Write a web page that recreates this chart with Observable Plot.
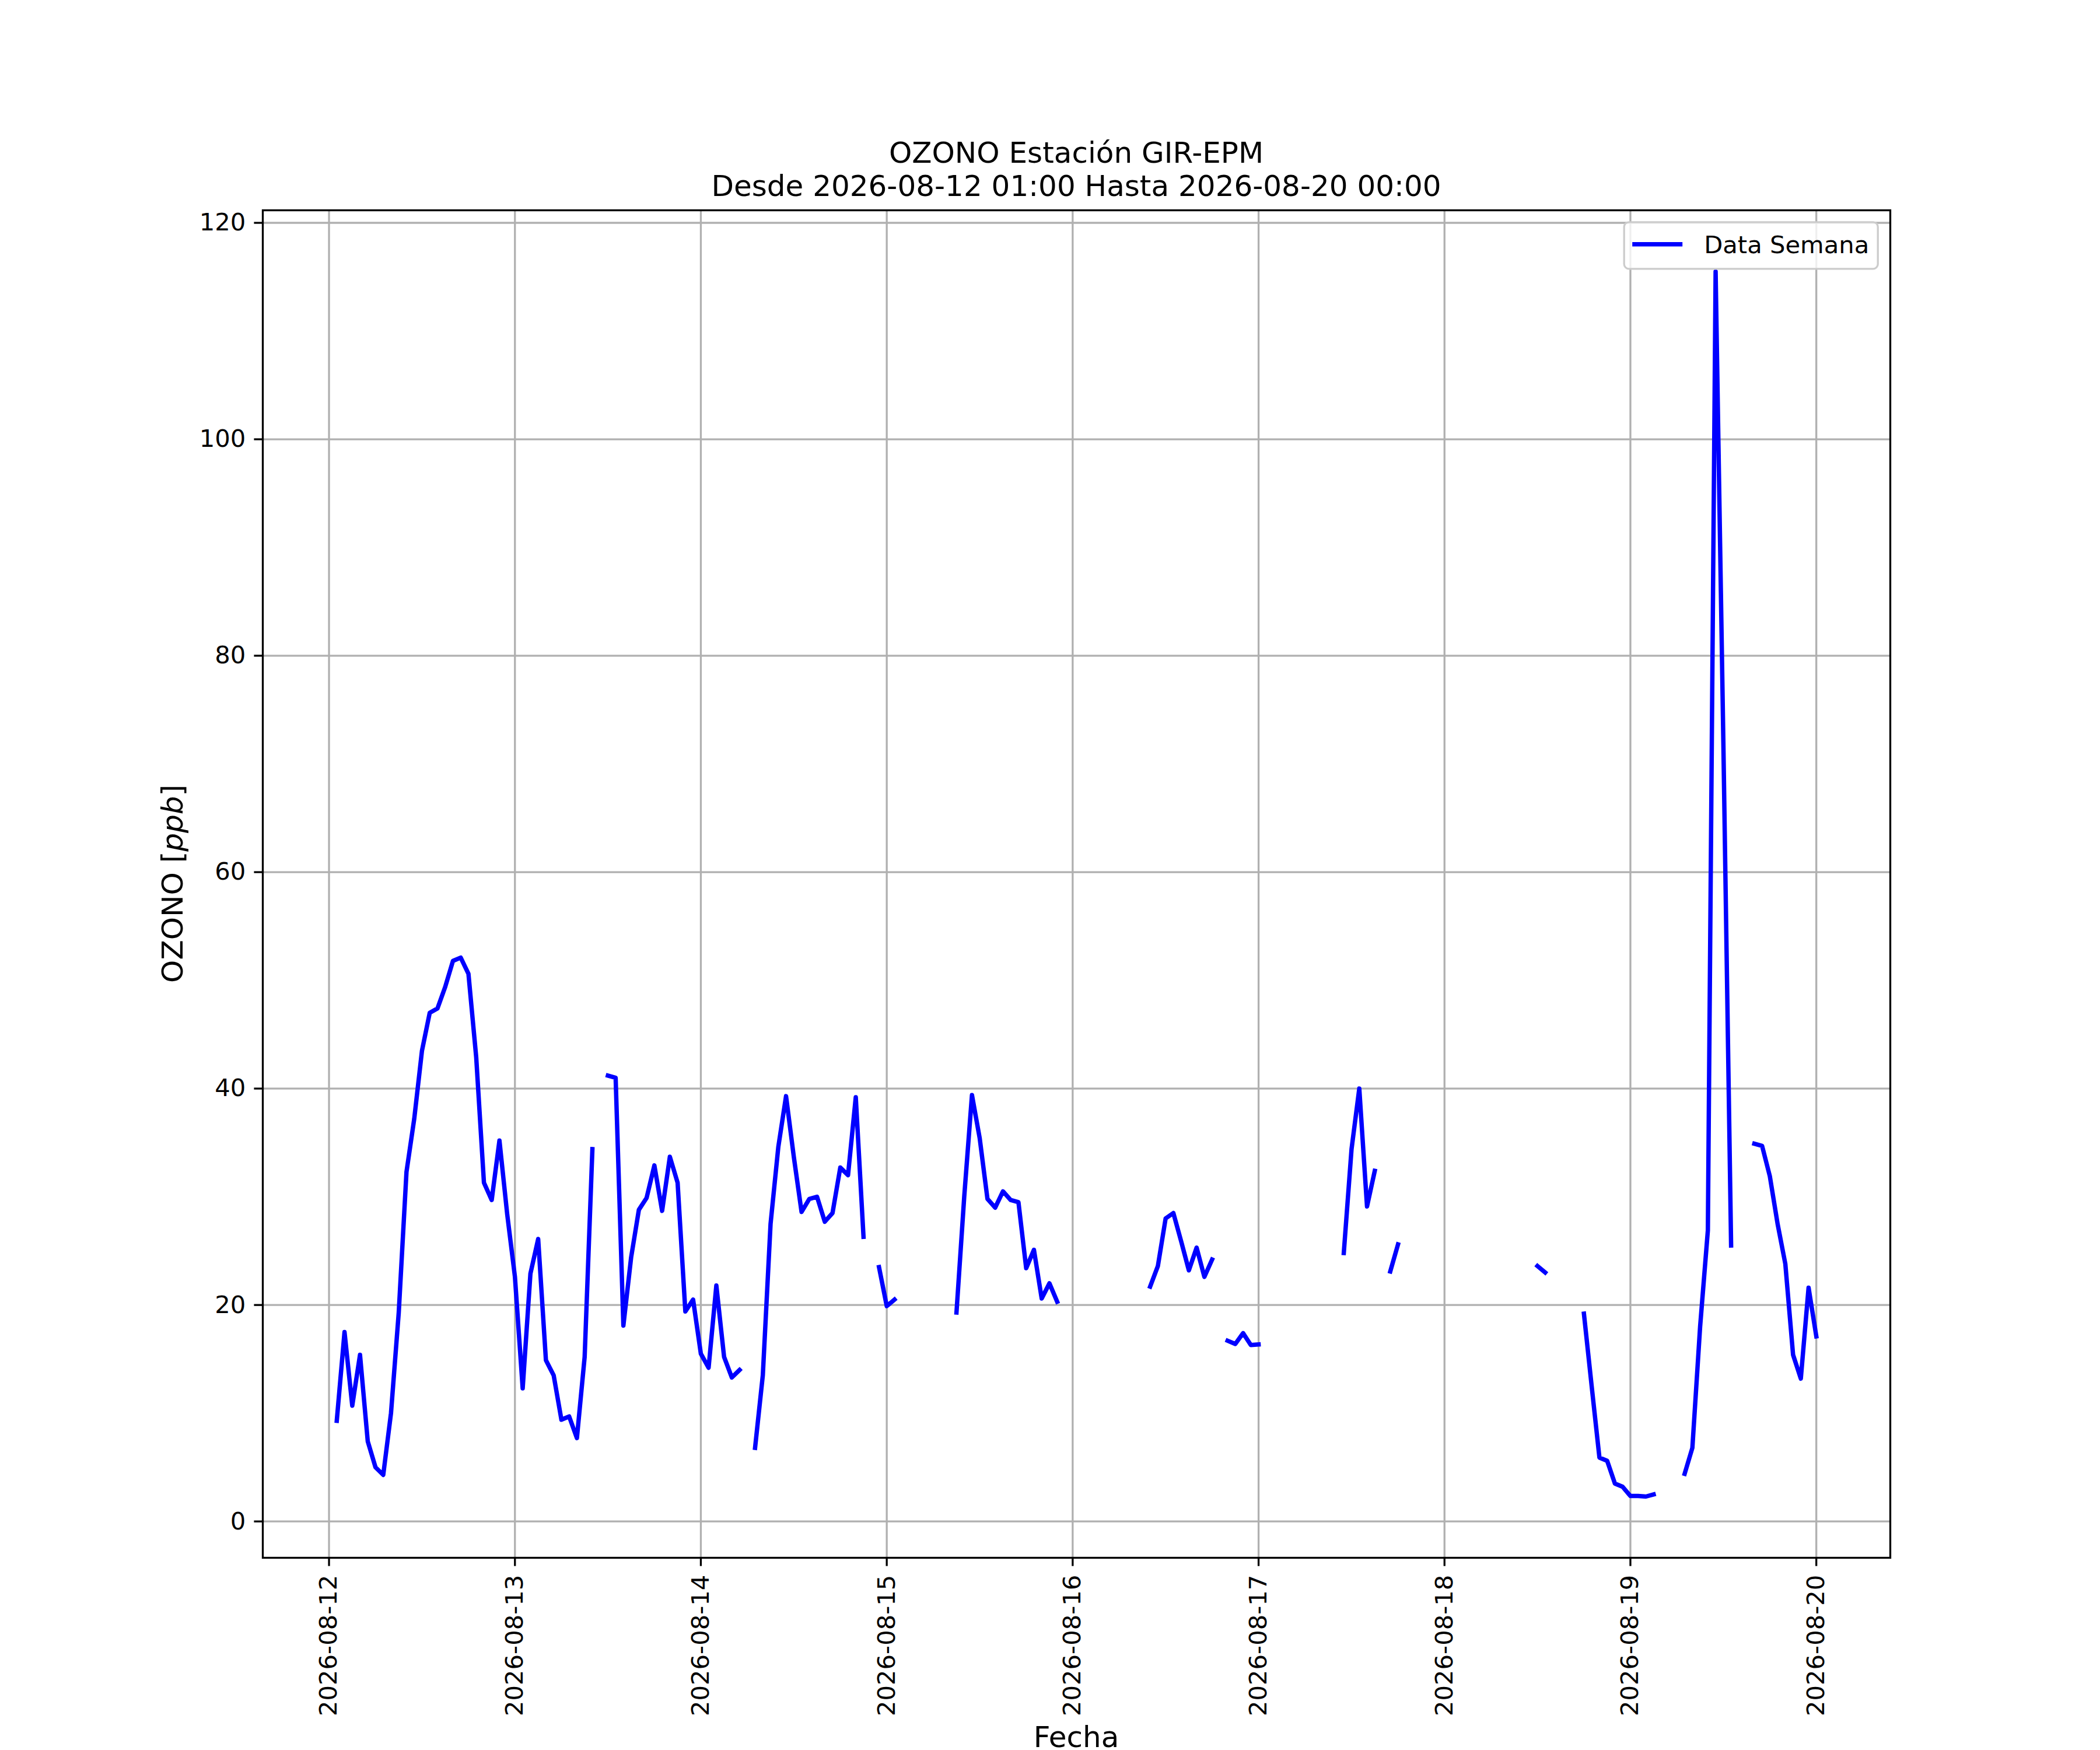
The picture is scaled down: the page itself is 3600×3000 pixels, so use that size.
<!DOCTYPE html>
<html>
<head>
<meta charset="utf-8">
<script src="https://cdn.jsdelivr.net/npm/d3@7"></script>
<script src="https://cdn.jsdelivr.net/npm/@observablehq/plot@0.6"></script>
<style>
  body { margin: 0; background: #ffffff; }
  #chart svg { display: block; }
</style>
</head>
<body>
<div id="chart"></div>
<script>
// ---- Data ----
const inicio = "2026-08-12T01:00:00Z";   // first hourly reading
const ozono = [
  9.3, 17.5, 10.7, 15.4, 7.4, 5.0, 4.3, 10.0, 19.3, 32.3,
  37.2, 43.5, 47.0, 47.4, 49.4, 51.8, 52.1, 50.6, 42.9, 31.3,
  29.7, 35.2, 28.4, 22.6, 12.3, 22.9, 26.1, 14.9, 13.5, 9.4,
  9.7, 7.7, 15.2, 34.4, null, 41.2, 41.0, 18.1, 24.4, 28.8,
  29.9, 32.9, 28.7, 33.7, 31.3, 19.4, 20.5, 15.5, 14.2, 21.8,
  15.2, 13.3, 14.0, null, 6.8, 13.5, 27.5, 34.6, 39.3, 33.7,
  28.6, 29.8, 30.0, 27.7, 28.5, 32.7, 32.0, 39.2, 26.3, null,
  23.5, 19.9, 20.5, null, null, null, null, null, null, null,
  19.3, 30.0, 39.4, 35.4, 29.8, 29.0, 30.5, 29.7, 29.5, 23.4,
  25.1, 20.6, 22.0, 20.3, null, null, null, null, null, null,
  null, null, null, null, null, 21.7, 23.6, 28.0, 28.5, 25.9,
  23.2, 25.3, 22.6, 24.2, null, 16.7, 16.4, 17.4, 16.3, 16.35,
  null, null, null, null, null, null, null, null, null, null,
  24.8, 34.4, 40.0, 29.1, 32.4, null, 23.1, 25.6, null, null,
  null, null, null, null, null, null, null, null, null, null,
  null, null, null, null, null, 23.6, 23.0, null, null, null,
  null, 19.2, 12.5, 5.9, 5.6, 3.5, 3.2, 2.35, 2.35, 2.3,
  2.5, null, null, null, 4.4, 6.8, 18.0, 26.9, 115.5, 72.0,
  25.5, null, null, 34.9, 34.7, 31.9, 27.5, 23.8, 15.4, 13.2,
  21.6, 17.1
];
const yTicks = [0, 20, 40, 60, 80, 100, 120];
const xTicks = ["2026-08-12", "2026-08-13", "2026-08-14", "2026-08-15", "2026-08-16",
                "2026-08-17", "2026-08-18", "2026-08-19", "2026-08-20"];
const titulo = ["OZONO Estación GIR-EPM", "Desde 2026-08-12 01:00 Hasta 2026-08-20 00:00"];
const etiquetaX = "Fecha";
const etiquetaY = "OZONO ";
const unidadY = "ppb";
const leyenda = "Data Semana";

// ---- Build table ----
const t0 = new Date(inicio);
const datos = ozono.map((v, i) => ({fecha: new Date(t0.getTime() + i * 3600e3), valor: v}));

// matplotlib-like 5% margins
const tMin = datos[0].fecha, tMax = datos[datos.length - 1].fecha;
const tPad = 0.05 * (tMax - tMin);
const vals = ozono.filter(v => v != null);
const vMin = d3.min(vals), vMax = d3.max(vals);
const vPad = 0.05 * (vMax - vMin);

const W = 3600, H = 3000;
const mL = 450, mR = 360, mT = 360, mB = 330;
const FS = 41.7, FS2 = 50;
const grid = "#b0b0b0";
const lw = 7.5;
const xTickDates = xTicks.map(d => new Date(d + "T00:00:00Z"));

const chart = Plot.plot({
  width: W,
  height: H,
  marginLeft: mL,
  marginRight: mR,
  marginTop: mT,
  marginBottom: mB,
  style: {fontFamily: "DejaVu Sans", fontSize: FS + "px", background: "#ffffff", color: "#000000", overflow: "visible"},
  x: {type: "utc", domain: [new Date(tMin - tPad), new Date(tMax.getTime() + tPad)]},
  y: {domain: [vMin - vPad, vMax + vPad]},
  marks: [
    Plot.gridX(xTickDates, {stroke: grid, strokeOpacity: 1, strokeWidth: 3.3}),
    Plot.gridY(yTicks, {stroke: grid, strokeOpacity: 1, strokeWidth: 3.3}),
    Plot.line(datos, {x: "fecha", y: "valor", stroke: "#0000ff", strokeWidth: lw,
                      strokeLinejoin: "round", strokeLinecap: "square"}),
    Plot.axisY(yTicks, {tickSize: 14.6, tickPadding: 14.6, strokeWidth: 3.3, label: null, fontSize: FS}),
    Plot.axisX(xTickDates, {
      tickSize: 14.6, tickPadding: 14.6, strokeWidth: 3.3, label: null, fontSize: FS,
      tickRotate: -90, tickFormat: d3.utcFormat("%Y-%m-%d")
    }),
    Plot.frame({stroke: "#000000", strokeWidth: 3.3})
  ]
});

document.getElementById("chart").appendChild(chart);

// ---- Decorations: title, axis labels, legend ----
const svg = d3.select(chart);
const cx = mL + (W - mL - mR) / 2;
const deco = svg.append("g").attr("font-family", "DejaVu Sans").attr("fill", "#000");

deco.append("text").attr("x", cx).attr("y", 279).attr("text-anchor", "middle")
  .attr("font-size", FS2).text(titulo[0]);
deco.append("text").attr("x", cx).attr("y", 336).attr("text-anchor", "middle")
  .attr("font-size", FS2).text(titulo[1]);

deco.append("text").attr("x", cx).attr("y", 2995).attr("text-anchor", "middle")
  .attr("font-size", FS2).text(etiquetaX);

const yl = deco.append("text")
  .attr("transform", `translate(313, ${mT + (H - mT - mB) / 2}) rotate(-90)`)
  .attr("text-anchor", "middle").attr("font-size", FS2);
yl.append("tspan").text(etiquetaY + "[");
yl.append("tspan").attr("font-style", "italic").text(unidadY);
yl.append("tspan").text("]");

// legend (upper right)
const lgW = 435, lgH = 80;
const lgX = W - mR - 20.8 - lgW, lgY = mT + 20.8;
const lg = deco.append("g");
lg.append("rect").attr("x", lgX).attr("y", lgY).attr("width", lgW).attr("height", lgH)
  .attr("rx", 8).attr("ry", 8).attr("fill", "#ffffff").attr("fill-opacity", 0.8)
  .attr("stroke", "#cccccc").attr("stroke-width", 3.3);
lg.append("line").attr("x1", lgX + 14).attr("x2", lgX + 100).attr("y1", lgY + 38).attr("y2", lgY + 38)
  .attr("stroke", "#0000ff").attr("stroke-width", lw).attr("stroke-linecap", "butt");
lg.append("text").attr("x", lgX + 137).attr("y", lgY + 53).attr("text-anchor", "start")
  .attr("font-size", FS).text(leyenda);
</script>
</body>
</html>
